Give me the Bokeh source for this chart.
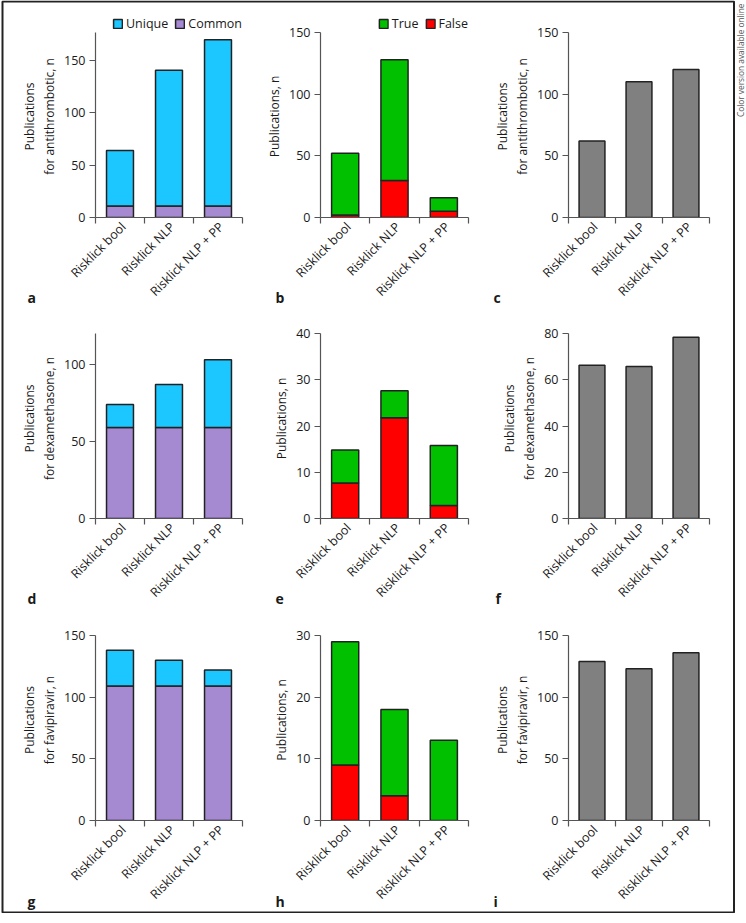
import math
from bokeh.plotting import figure
from bokeh.layouts import column
from bokeh.models import (ColumnDataSource, FixedTicker, Legend, LegendItem,
                          Label, Range1d, GridBox)
from bokeh.embed import file_html
from bokeh.resources import INLINE

# ---------------- data ----------------
categories = ["Risklick bool", "Risklick NLP", "Risklick NLP + PP"]

# antithrombotic
a_common = [11, 11, 11]
a_unique = [53, 130, 159]
b_false = [2, 30, 5]
b_true = [50, 98, 11]
c_total = [62, 110, 120]
# dexamethasone
d_common = [59, 59, 59]
d_unique = [15, 28, 44]
e_false = [7.7, 21.8, 2.8]
e_true = [7.1, 5.8, 13.0]
f_total = [66.3, 65.7, 78.4]
# favipiravir
g_common = [109, 109, 109]
g_unique = [29, 21, 13]
h_false = [9, 4, 0]
h_true = [20, 14, 13]
i_total = [129, 123, 136]

yticks_150 = [0, 50, 100, 150]
yticks_d = [0, 50, 100]
yticks_e = [0, 10, 20, 30, 40]
yticks_f = [0, 20, 40, 60, 80]
yticks_h = [0, 10, 20, 30]

panel_letters = ["a", "b", "c", "d", "e", "f", "g", "h", "i"]
side_note = "Color version available online"

# ---------------- style / layout ----------------
FONT = "Open Sans"
TXT = "#1a1a1a"
AX = "#555555"
CYAN = "#1CC6FF"
PURPLE = "#A58AD2"
GREEN = "#00C000"
RED = "#FF0000"
GREY = "#808080"
EDGE = "#222222"

PAGE_W, PAGE_H = 746, 913
AXIS_PX = 185          # pixel height from 0 to the top tick of each y axis
LABEL_SHIFT = -0.07    # small nudge of the rotated category labels

COLS = [  # fig width, border_left, border_right
    (250, 95, 8),
    (240, 70, 22),
    (256, 70, 37),
]
ROWS = [  # fig height, border_top, border_bottom
    (310, 15, 93),
    (301, 8, 93),
    (302, 8, 93),
]
LETTER_POS = [(27, 297), (275, 297), (493, 297),
              (27, 598), (275, 598), (495, 598),
              (27, 901), (275, 901), (493, 901)]

xs = [i + 0.5 for i in range(len(categories))]
label_ticks = [round(x - LABEL_SHIFT, 3) for x in xs]
label_map = {t: c for t, c in zip(label_ticks, categories)}


def base_fig(ci, ri, ymax, yticks, ylabel):
    w, bl, br = COLS[ci]
    h, bt, bb = ROWS[ri]
    frame_px = h - bt - bb
    y_end = ymax * frame_px / AXIS_PX
    p = figure(width=w, height=h, x_range=Range1d(0, len(categories)),
               y_range=Range1d(0, y_end), output_backend="svg",
               toolbar_location=None, min_border_left=bl, min_border_right=br,
               min_border_top=bt, min_border_bottom=bb)
    p.outline_line_color = None
    p.grid.visible = False
    p.background_fill_color = "white"
    p.border_fill_color = "white"

    xa = p.xaxis[0]
    xa.ticker = FixedTicker(ticks=label_ticks,
                            minor_ticks=list(range(len(categories) + 1)))
    xa.major_label_overrides = label_map
    xa.major_tick_line_color = None
    xa.major_tick_out = 5
    xa.minor_tick_line_color = AX
    xa.minor_tick_line_width = 1.2
    xa.minor_tick_in = 0
    xa.minor_tick_out = 6
    xa.axis_line_color = AX
    xa.axis_line_width = 1.2
    xa.major_label_orientation = math.pi / 4
    xa.major_label_text_font = FONT
    xa.major_label_text_font_size = "12.5px"
    xa.major_label_text_color = TXT
    xa.major_label_standoff = 1

    ya = p.yaxis[0]
    ya.ticker = FixedTicker(ticks=yticks, minor_ticks=[])
    ya.bounds = (0, ymax)
    ya.axis_line_color = AX
    ya.axis_line_width = 1.2
    ya.major_tick_line_color = AX
    ya.major_tick_line_width = 1.2
    ya.major_tick_in = 0
    ya.major_tick_out = 6
    ya.minor_tick_line_color = None
    ya.major_label_text_font = FONT
    ya.major_label_text_font_size = "12.5px"
    ya.major_label_text_color = TXT
    ya.major_label_standoff = 4
    ya.axis_label = ylabel
    ya.axis_label_text_font = FONT
    ya.axis_label_text_font_size = "12px"
    ya.axis_label_text_font_style = "normal"
    ya.axis_label_text_color = TXT
    ya.axis_label_standoff = 3
    return p


def add_legend(p, items):
    lg = Legend(items=items, orientation="horizontal", location="top_right",
                glyph_width=11, glyph_height=11, label_height=11,
                label_text_font=FONT, label_text_font_size="12.5px",
                label_text_color=TXT, label_standoff=3, spacing=6,
                padding=0, margin=0, background_fill_alpha=0,
                border_line_color=None)
    p.add_layout(lg, "center")


def uc_panel(ci, ri, common, unique, ymax, yticks, ylabel, legend):
    p = base_fig(ci, ri, ymax, yticks, ylabel)
    src = ColumnDataSource(dict(x=xs, common=common, unique=unique))
    rs = p.vbar_stack(["common", "unique"], x="x", width=0.55, source=src,
                      fill_color=[PURPLE, CYAN], line_color=EDGE, line_width=1.5)
    if legend:
        add_legend(p, [LegendItem(label="Unique", renderers=[rs[1]]),
                       LegendItem(label="Common", renderers=[rs[0]])])
    return p


def tf_panel(ci, ri, false, true, ymax, yticks, ylabel, legend):
    p = base_fig(ci, ri, ymax, yticks, ylabel)
    src = ColumnDataSource(dict(x=xs, false=false, true=true))
    rs = p.vbar_stack(["false", "true"], x="x", width=0.55, source=src,
                      fill_color=[RED, GREEN], line_color=EDGE, line_width=1.5)
    if legend:
        add_legend(p, [LegendItem(label="True", renderers=[rs[1]]),
                       LegendItem(label="False", renderers=[rs[0]])])
    return p


def tot_panel(ci, ri, total, ymax, yticks, ylabel):
    p = base_fig(ci, ri, ymax, yticks, ylabel)
    src = ColumnDataSource(dict(x=xs, total=total))
    p.vbar(x="x", top="total", width=0.55, source=src, fill_color=GREY,
           line_color=EDGE, line_width=1.5)
    return p


pa = uc_panel(0, 0, a_common, a_unique, 177, yticks_150,
              "Publications\nfor antithrombotic, n", True)
pb = tf_panel(1, 0, b_false, b_true, 150, yticks_150, "Publications, n", True)
pc = tot_panel(2, 0, c_total, 150, yticks_150,
               "Publications\nfor antithrombotic, n")

pd = uc_panel(0, 1, d_common, d_unique, 120, yticks_d,
              "Publications\nfor dexamethasone, n", False)
pe = tf_panel(1, 1, e_false, e_true, 40, yticks_e, "Publications, n", False)
pf = tot_panel(2, 1, f_total, 80, yticks_f,
               "Publications\nfor dexamethasone, n")

pg = uc_panel(0, 2, g_common, g_unique, 150, yticks_150,
              "Publications\nfor favipiravir, n", False)
ph = tf_panel(1, 2, h_false, h_true, 30, yticks_h, "Publications, n", False)
pi_ = tot_panel(2, 2, i_total, 150, yticks_150,
                "Publications\nfor favipiravir, n")

# transparent overlay covering the whole page: frame line, panel letters, note
ov = figure(width=PAGE_W, height=PAGE_H, x_range=Range1d(0, PAGE_W),
            y_range=Range1d(PAGE_H, 0), output_backend="svg",
            toolbar_location=None, x_axis_type=None, y_axis_type=None,
            min_border=0, min_border_left=0, min_border_right=0,
            min_border_top=0, min_border_bottom=0)
ov.grid.visible = False
ov.outline_line_color = None
ov.background_fill_color = None
ov.border_fill_color = None
ov.quad(left=[2], right=[733.5], top=[1], bottom=[912], fill_color=None,
        line_color=EDGE, line_width=2)
for letter, (lx, ly) in zip(panel_letters, LETTER_POS):
    ov.add_layout(Label(x=lx, y=ly, text=letter, text_font=FONT,
                        text_font_size="14px", text_font_style="bold",
                        text_color=TXT, text_align="left",
                        text_baseline="alphabetic"))
ov.add_layout(Label(x=740, y=3, text=side_note, angle=math.pi / 2,
                    text_font=FONT, text_font_size="8.3px", text_color="#555555",
                    text_align="right", text_baseline="middle"))

cells = []
for ri, rowfigs in enumerate([[pa, pb, pc], [pd, pe, pf], [pg, ph, pi_]]):
    for ci, f in enumerate(rowfigs):
        cells.append((f, ri, ci))
panels = GridBox(children=cells, spacing=0)

layout = GridBox(children=[(panels, 0, 0), (column(ov), 0, 0)], spacing=0)

open("out.html", "w").write(file_html(layout, INLINE))
